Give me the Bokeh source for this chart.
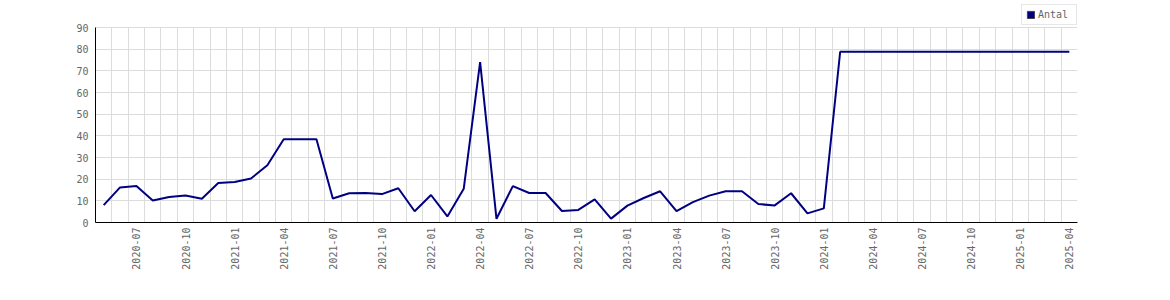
import math
from bokeh.plotting import figure
from bokeh.models import FixedTicker, Legend, LegendItem, Range1d, ColumnDataSource
from bokeh.embed import file_html
from bokeh.resources import INLINE

# Monthly categories 2020-05 .. 2025-04
months = []
for yr in range(2020, 2026):
    for mo in range(1, 13):
        lab = f"{yr}-{mo:02d}"
        if "2020-05" <= lab <= "2025-04":
            months.append(lab)

antal = [
    8.0, 16.2, 16.8, 10.2, 11.8, 12.5, 11.0, 18.2, 18.7, 20.3,
    26.4, 38.4, 38.4, 38.4, 11.1, 13.5, 13.6, 13.1, 15.8, 5.2,
    12.7, 2.8, 15.6, 74.0, 1.7, 16.8, 13.6, 13.6, 5.3, 5.8,
    10.7, 1.8, 7.8, 11.3, 14.4, 5.2, 9.4, 12.4, 14.4, 14.4,
    8.5, 7.9, 13.5, 4.2, 6.5, 78.8, 78.8, 78.8, 78.8, 78.8,
    78.8, 78.8, 78.8, 78.8, 78.8, 78.8, 78.8, 78.8, 78.8, 78.8,
]

tick_labels = [
    "2020-07", "2020-10", "2021-01", "2021-04", "2021-07", "2021-10",
    "2022-01", "2022-04", "2022-07", "2022-10", "2023-01", "2023-04",
    "2023-07", "2023-10", "2024-01", "2024-04", "2024-07", "2024-10",
    "2025-01", "2025-04",
]
y_ticks = [0, 10, 20, 30, 40, 50, 60, 70, 80, 90]
series_name = "Antal"

FONT = "DejaVu Sans Mono"
LINE_COLOR = "#000080"
GRID = "#dcdcdc"
TXT = "#666666"

Y_MAX = 90
# frame extends above the value axis to host the legend (218 px frame, 195 px for 0..90)
Y_TOP = Y_MAX * 218 / 195

xs = list(range(len(months)))
src = ColumnDataSource(dict(x=xs, y=antal, month=months))

p = figure(width=1170, height=300, output_backend="svg", toolbar_location=None,
           x_range=Range1d(-0.5, len(months) - 0.5), y_range=Range1d(0, Y_TOP),
           min_border_left=95, min_border_right=93, min_border_top=4,
           min_border_bottom=78)
p.background_fill_color = "white"
p.border_fill_color = "white"
p.outline_line_color = None

tick_pos = [months.index(t) for t in tick_labels]
p.xaxis.ticker = FixedTicker(ticks=tick_pos)
p.xaxis.major_label_overrides = {pos: lab for pos, lab in zip(tick_pos, tick_labels)}
p.xaxis.major_label_orientation = math.pi / 2

# vertical grid lines at month boundaries, only over the 0..90 value band
bounds_x = [i + 0.5 for i in range(len(months))]
if "cross_bounds" in p.xgrid[0].properties():
    p.xgrid.ticker = FixedTicker(ticks=bounds_x)
    p.xgrid.grid_line_color = GRID
    p.xgrid.cross_bounds = (0, Y_MAX)
else:
    p.xgrid.grid_line_color = None
    p.segment(x0=bounds_x, y0=[0] * len(bounds_x), x1=bounds_x,
              y1=[Y_MAX] * len(bounds_x), line_color=GRID, line_width=1)

p.yaxis.ticker = FixedTicker(ticks=y_ticks)
p.yaxis.bounds = (0, Y_MAX)
p.ygrid.ticker = FixedTicker(ticks=y_ticks)
p.ygrid.grid_line_color = GRID

for ax in (p.xaxis, p.yaxis):
    ax.axis_line_color = "black"
    ax.axis_line_width = 1
    ax.major_tick_in = 0
    ax.major_tick_out = 0
    ax.minor_tick_in = 0
    ax.minor_tick_out = 0
    ax.major_label_text_font = FONT
    ax.major_label_text_font_size = "10px"
    ax.major_label_text_color = TXT
p.xaxis.major_label_standoff = 5
p.yaxis.major_label_standoff = 7

line = p.line("x", "y", source=src, line_color=LINE_COLOR, line_width=2)

# filled square swatch for the legend entry (its single box lies outside the view)
sq = p.quad(left=[-100], right=[-99], bottom=[-100], top=[-99],
            fill_color=LINE_COLOR, line_color="#444444", line_width=1)

legend = Legend(items=[LegendItem(label=series_name, renderers=[sq])],
                location="top_right", orientation="vertical",
                border_line_color="#d0d0d0", border_line_width=1,
                background_fill_color="white", background_fill_alpha=1,
                padding=4, margin=0, spacing=0,
                glyph_width=9, glyph_height=9, label_standoff=3,
                label_height=11, label_width=34,
                label_text_font=FONT, label_text_font_size="10px",
                label_text_color=TXT)
p.add_layout(legend)

open("out.html", "w").write(file_html(p, INLINE))
